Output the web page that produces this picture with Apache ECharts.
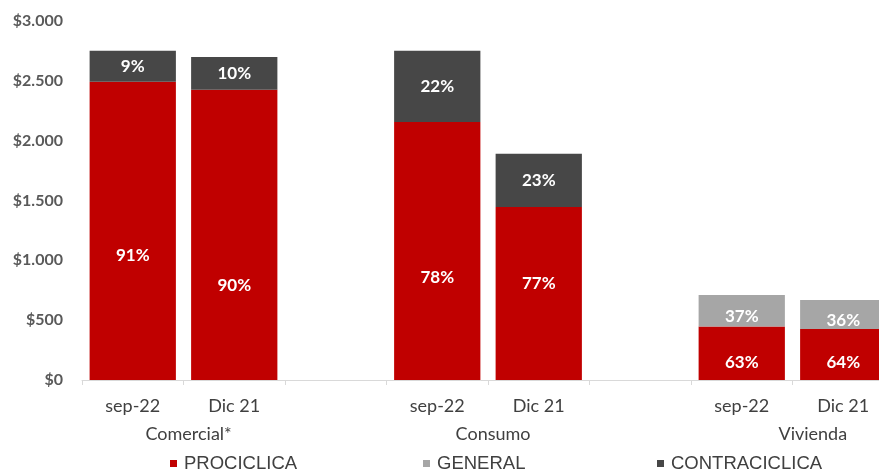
<!DOCTYPE html>
<html><head><meta charset="utf-8">
<script src="https://cdn.jsdelivr.net/npm/echarts@6/dist/echarts.min.js"></script>
<style>html,body{margin:0;padding:0;background:#fff}#c{width:879px;height:470px}</style>
</head><body><div id="c"></div>
<script>
const categories = ['sep-22','Dic 21','','sep-22','Dic 21','','sep-22','Dic 21'];
const groupNames = ['Comercial*','Consumo','Vivienda'];
const prociclica = [2492, 2425, null, 2157, 1446, null, 448, 426];
const general = [null, null, null, null, null, null, 263, 243];
const contraciclica = [259, 275, null, 594, 444, null, null, null];
const proPct = ['91%','90%','','78%','77%','','63%','64%'];
const genPct = ['','','','','','','37%','36%'];
const contraPct = ['9%','10%','','22%','23%','','',''];
const yTicks = [0, 500, 1000, 1500, 2000, 2500, 3000];

// label placement tweaks (style only)
const proLabelShift = [25, 51, 0, 27, -10, 0, 9, 8];
const groupLabelAt = {11: groupNames[0], 71: groupNames[1], 134: groupNames[2]};

const chart = echarts.init(document.getElementById('c'));
const labelStyle = {color:'#fff', fontWeight:'bold', fontSize:17, fontFamily:'Lato'};
function fmtMoney(v){ return '$' + String(v).replace(/\B(?=(\d{3})+(?!\d))/g, '.'); }
function mkLegend(name, left){
  return {data:[name], left:left, top:454, icon:'rect', itemWidth:7, itemHeight:7, itemGap:0, padding:0,
    textStyle:{fontFamily:'Liberation Sans', fontSize:18.5, color:'#404040', padding:[0,0,0,2]}};
}
chart.setOption({
  animation:false,
  grid:{left:82, width:812, top:21, height:359, outerBoundsMode:'none', containLabel:false},
  legend:[mkLegend('PROCICLICA',170), mkLegend('GENERAL',423), mkLegend('CONTRACICLICA',657)],
  xAxis:[{
    type:'category', data:categories,
    axisLine:{lineStyle:{color:'#d9d9d9'}},
    axisTick:{show:true, length:5, lineStyle:{color:'#d9d9d9'}},
    axisLabel:{color:'#404040', fontFamily:'Lato', fontSize:18, margin:17, interval:0}
  },{
    type:'value', min:-0.5, max:7.5, interval:0.05, position:'bottom',
    axisLine:{show:false}, axisTick:{show:false}, splitLine:{show:false},
    axisLabel:{color:'#404040', fontFamily:'Lato', fontSize:18, margin:45, showMinLabel:true, showMaxLabel:true,
      formatter:function(v){ const k=Math.round(v*20); return groupLabelAt[k]||''; }}
  }],
  yAxis:{type:'value', min:yTicks[0], max:yTicks[yTicks.length-1], interval:500,
    axisLine:{show:false}, axisTick:{show:false}, splitLine:{show:false},
    axisLabel:{color:'#595959', fontFamily:'Lato', fontWeight:'bold', fontSize:16, margin:19, formatter:fmtMoney}},
  series:[
    {name:'PROCICLICA', type:'bar', stack:'t', data:prociclica.map((v,i)=>({value:v,label:{offset:[0,proLabelShift[i]]}})),
      barWidth:'85%', itemStyle:{color:'#C00000'},
      label:{show:true, position:'inside', ...labelStyle, formatter:p=>proPct[p.dataIndex]}},
    {name:'GENERAL', type:'bar', stack:'t', data:general, barWidth:'85%', itemStyle:{color:'#A6A6A6'},
      label:{show:true, position:'inside', ...labelStyle, offset:[0,6], formatter:p=>genPct[p.dataIndex]}},
    {name:'CONTRACICLICA', type:'bar', stack:'t', data:contraciclica, barWidth:'85%', itemStyle:{color:'#474747'},
      label:{show:true, position:'inside', ...labelStyle, formatter:p=>contraPct[p.dataIndex]}}
  ]
});
</script></body></html>
